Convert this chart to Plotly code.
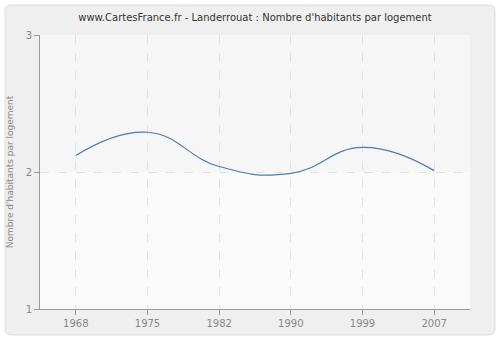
import plotly.graph_objects as go

years = ["1968", "1975", "1982", "1990", "1999", "2007"]
values = [2.12, 2.29, 2.04, 1.99, 2.18, 2.01]
y_ticks = [1, 2, 3]

W, H = 500, 340
L, R, T, B = 40, 30, 35, 31
pw, ph = W - L - R, H - T - B

def px2paper_x(x):
    return (x - L) / pw

def px2paper_y(y):
    return (H - B - y) / ph

fig = go.Figure()
fig.add_trace(go.Scatter(
    x=years, y=values, mode="lines",
    line=dict(color="#4f7ab3", width=1.2, shape="spline", smoothing=1.3),
    hoverinfo="x+y",
))

# outer rounded frame
x0, y0, x1, y1 = px2paper_x(5), px2paper_y(5), px2paper_x(495), px2paper_y(335)
r = 6
rx, ry = r / pw, r / ph
path = (f"M {x0+rx},{y0} L {x1-rx},{y0} Q {x1},{y0} {x1},{y0-ry} "
        f"L {x1},{y1+ry} Q {x1},{y1} {x1-rx},{y1} L {x0+rx},{y1} "
        f"Q {x0},{y1} {x0},{y1+ry} L {x0},{y0-ry} Q {x0},{y0} {x0+rx},{y0} Z")

shapes = [
    dict(type="path", path=path, xref="paper", yref="paper",
         fillcolor="#efefef", line=dict(color="#dedede", width=1), layer="below"),
    dict(type="rect", xref="paper", yref="y", x0=0, x1=1, y0=2, y1=3,
         fillcolor="#f6f6f6", line=dict(width=0), layer="below"),
    dict(type="rect", xref="paper", yref="y", x0=0, x1=1, y0=1, y1=2,
         fillcolor="#fafafa", line=dict(width=0), layer="below"),
]

fig.update_layout(
    width=W, height=H,
    margin=dict(l=L, r=R, t=T, b=B, autoexpand=False),
    paper_bgcolor="white",
    plot_bgcolor="rgba(0,0,0,0)",
    shapes=shapes,
    showlegend=False,
    title=dict(text="www.CartesFrance.fr - Landerrouat : Nombre d'habitants par logement",
               x=0.5, xanchor="center", xref="paper", y=1 - 17 / H, yanchor="middle",
               font=dict(family="DejaVu Sans, Verdana, sans-serif", size=10, color="#333333")),
    font=dict(family="DejaVu Sans, Verdana, sans-serif", size=10, color="#888888"),
    xaxis=dict(
        type="category", range=[-0.5, 5.5],
        showgrid=True, gridcolor="#e2e2e2", griddash="dash", gridwidth=1,
        showline=True, linecolor="#999999", linewidth=1,
        ticks="outside", ticklen=5, tickcolor="#999999",
        tickfont=dict(size=10, color="#888888"),
        zeroline=False, fixedrange=True, automargin=False,
    ),
    yaxis=dict(
        range=[1, 3], tickvals=y_ticks, ticktext=[str(v) for v in y_ticks],
        showgrid=True, gridcolor="#e2e2e2", griddash="dash", gridwidth=1,
        showline=True, linecolor="#999999", linewidth=1,
        ticks="outside", ticklen=5, tickcolor="#999999",
        tickfont=dict(size=10, color="#888888"),
        title=dict(text="Nombre d'habitants par logement", standoff=10,
                   font=dict(size=9, color="#888888")),
        zeroline=False, fixedrange=True, automargin=False,
    ),
)

fig.write_html("out.html", config={"displayModeBar": False},
               post_script="document.body.style.margin='0';")
